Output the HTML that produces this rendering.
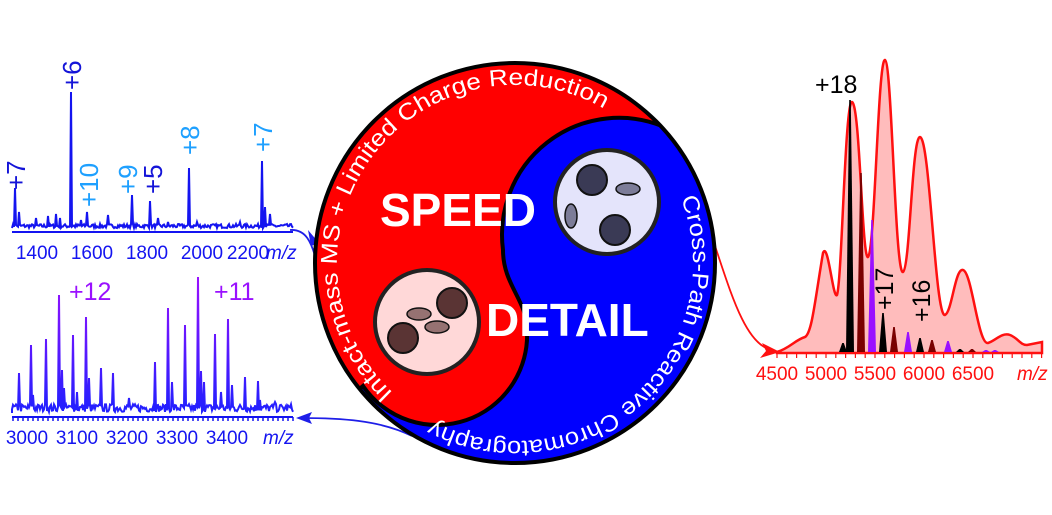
<!DOCTYPE html>
<html><head><meta charset="utf-8"><style>
html,body{margin:0;padding:0;background:#fff;width:1052px;height:515px;overflow:hidden}
svg{display:block}
text{font-family:"Liberation Sans",Arial,sans-serif}
</style></head><body>
<svg id="s" width="1052" height="515" viewBox="0 0 1052 515" xmlns="http://www.w3.org/2000/svg">
<defs>
<linearGradient id="pg" x1="0" y1="0" x2="0" y2="1"><stop offset="0" stop-color="#9a10ff"/><stop offset="1" stop-color="#2020ff"/></linearGradient>
<path id="ring" d="M 400.6,399.4 A 178 178 0 1 1 629.4,126.6 A 178 178 0 0 1 400.6,399.4"/>
<clipPath id="cc"><circle cx="515" cy="263" r="200"/></clipPath>
</defs>

<!-- Top-left spectrum -->
<g id="tl" stroke="#1414f0" fill="none" stroke-width="2"></g>
<line x1="12" y1="232" x2="293" y2="232" stroke="#1414f0" stroke-width="2"/>
<g fill="#1414f0" font-size="19">
<text x="37" y="259" text-anchor="middle">1400</text>
<text x="92" y="259" text-anchor="middle">1600</text>
<text x="147" y="259" text-anchor="middle">1800</text>
<text x="202" y="259" text-anchor="middle">2000</text>
<text x="248" y="259" text-anchor="middle">2200</text>
<text x="266" y="259" font-style="italic">m/z</text>
</g>
<g font-size="26">
<text transform="translate(25,190) rotate(-90)" fill="#1414d8">+7</text>
<text transform="translate(81,90) rotate(-90)" fill="#1414d8">+6</text>
<text transform="translate(98,207) rotate(-90)" fill="#1ea0ff">+10</text>
<text transform="translate(137,194) rotate(-90)" fill="#1ea0ff">+9</text>
<text transform="translate(162,194) rotate(-90)" fill="#1414d8">+5</text>
<text transform="translate(199,155) rotate(-90)" fill="#1ea0ff">+8</text>
<text transform="translate(272,152) rotate(-90)" fill="#1ea0ff">+7</text>
</g>

<!-- Bottom-left spectrum -->
<g id="bl" stroke="url(#pg)" fill="none" stroke-width="2"></g>
<line x1="12" y1="417" x2="293" y2="417" stroke="#1414f0" stroke-width="2"/>
<g id="blt" stroke="#1414f0" stroke-width="1.5"></g>
<g fill="#1414f0" font-size="19">
<text x="27" y="444" text-anchor="middle">3000</text>
<text x="77" y="444" text-anchor="middle">3100</text>
<text x="127" y="444" text-anchor="middle">3200</text>
<text x="177" y="444" text-anchor="middle">3300</text>
<text x="227" y="444" text-anchor="middle">3400</text>
<text x="263" y="444" font-style="italic">m/z</text>
</g>
<g fill="#9a10ff" font-size="25">
<text x="69" y="300">+12</text>
<text x="214" y="300">+11</text>
</g>

<!-- Right spectrum -->
<path d="M777,352 C790,348 795,340 805,337 C812,333 815,300 823,253 C828,240 833,300 837,295 C842,280 845,100 852,102 C860,104 862,260 868,257 C875,250 878,58 885,60 C892,62 895,275 903,272 C910,268 912,136 920,137 C930,138 935,318 945,315 C952,312 955,268 963,270 C972,272 978,345 988,343 C995,341 1002,332 1010,335 C1018,338 1020,345 1027,345 L1042,342 L1042,353 L777,353 Z" fill="#ffbcbc" stroke="#ff1010" stroke-width="2.5"/>
<g id="rs"></g>
<line x1="777" y1="353" x2="1042" y2="353" stroke="#ff1010" stroke-width="2"/>
<g id="rt" stroke="#ff1010" stroke-width="1.2"></g>
<g fill="#ff1010" font-size="19">
<text x="777" y="380" text-anchor="middle">4500</text>
<text x="826" y="380" text-anchor="middle">5000</text>
<text x="875" y="380" text-anchor="middle">5500</text>
<text x="924" y="380" text-anchor="middle">6000</text>
<text x="973" y="380" text-anchor="middle">6500</text>
<text x="1017" y="380" font-style="italic">m/z</text>
</g>
<g fill="#000" font-size="25">
<text x="815" y="93">+18</text>
<text transform="translate(893,310) rotate(-90)">+17</text>
<text transform="translate(930,322) rotate(-90)">+16</text>
</g>

<!-- arrows -->
<path d="M290,230 C305,229 312,240 318,268" stroke="#1e1ee8" stroke-width="1.8" fill="none"/>
<polygon points="308,230 319,243 311,246" fill="#1e1ee8"/>
<path d="M300,418 C340,418 380,420 412,436" stroke="#1e1ee8" stroke-width="1.8" fill="none"/>
<polygon points="296,418 312,412 309,418 312,424" fill="#1e1ee8"/>
<path d="M713,240 C730,290 745,345 772,350" stroke="#ff1010" stroke-width="1.8" fill="none"/>
<polygon points="780,352 762,343 766,351 760,358" fill="#ff1010"/>

<!-- Yin-yang -->
<circle cx="515" cy="263" r="200" fill="#0000ff"/>
<g clip-path="url(#cc)">
<path d="M 662,126 A 117 117 0 0 0 503,250 C 503,285 527,300 527,330 A 90 90 0 0 1 363,386 L 300,440 L 250,263 L 250,20 L 720,20 L 700,100 Z" fill="#ff0000" stroke="#000" stroke-width="4"/>
</g>
<circle cx="515" cy="263" r="200" fill="none" stroke="#000" stroke-width="4"/>

<circle cx="607" cy="202" r="52" fill="#e4e4fb" stroke="#222" stroke-width="4"/>
<circle cx="592" cy="180" r="15" fill="#3a3a55" stroke="#111" stroke-width="2"/>
<circle cx="615" cy="230" r="15" fill="#3a3a55" stroke="#111" stroke-width="2"/>
<ellipse cx="628" cy="189" rx="12" ry="6" fill="#7c7c98" stroke="#111" stroke-width="1.5"/>
<ellipse cx="571" cy="216" rx="6" ry="12" fill="#7c7c98" stroke="#111" stroke-width="1.5"/>

<circle cx="427" cy="322" r="52" fill="#ffd8d8" stroke="#222" stroke-width="4"/>
<circle cx="403" cy="338" r="15" fill="#5a3434" stroke="#111" stroke-width="2"/>
<circle cx="452" cy="303" r="15" fill="#5a3434" stroke="#111" stroke-width="2"/>
<ellipse cx="419" cy="314" rx="12" ry="6" fill="#967272" stroke="#111" stroke-width="1.5"/>
<ellipse cx="437" cy="327" rx="12" ry="6" fill="#967272" stroke="#111" stroke-width="1.5"/>

<text x="380" y="226" fill="#fff" font-size="46" font-weight="bold">SPEED</text>
<text x="486" y="336" fill="#fff" font-size="46" font-weight="bold">DETAIL</text>

<text fill="#fff" font-size="23"><textPath href="#ring" startOffset="10" textLength="518" lengthAdjust="spacingAndGlyphs">Intact-mass MS + Limited Charge Reduction</textPath></text>
<text fill="#fff" font-size="23"><textPath href="#ring" startOffset="648" textLength="432" lengthAdjust="spacingAndGlyphs">Cross-Path Reactive Chromatography</textPath></text>
</svg>
<script>
var seed=7;function rnd(){seed=(seed*16807)%2147483647;return seed/2147483647;}
var NS="http://www.w3.org/2000/svg";
function P(g,d,attrs){var p=document.createElementNS(NS,"path");p.setAttribute("d",d);for(var k in attrs)p.setAttribute(k,attrs[k]);document.getElementById(g).appendChild(p);}
var pk=[[15,188],[19,212],[36,218],[71,92],[81,220],[87,212],[132,195],[150,201],[158,218],[189,168],[197,222],[262,161],[265,207],[270,214],[108,215],[56,214],[60,218],[48,216],[168,222],[240,222]];
var d="M12,228";for(var x=12;x<=293;x+=1){var y=228-rnd()*4;for(var i=0;i<pk.length;i++){if(Math.abs(pk[i][0]-x)<0.5)y=pk[i][1];}d+=" L"+x+","+y.toFixed(1);}
P("tl",d,{});
var pb=[[19,373],[31,345],[46,339],[59,295],[73,335],[86,317],[101,368],[113,373],[155,362],[168,308],[185,325],[198,277],[215,334],[228,319],[245,377],[258,381],[62,370],[89,378],[33,395],[172,382],[201,371],[204,382],[232,385],[221,392],[129,398],[64,388],[77,392],[260,400],[275,402]];
d="M12,413";for(x=12;x<=293;x+=1){y=412-rnd()*8;for(i=0;i<pb.length;i++){if(Math.abs(pb[i][0]-x)<0.5)y=pb[i][1];}d+=" L"+x+","+y.toFixed(1);}
P("bl",d,{});
var t="";for(x=13;x<=293;x+=5){var L=((x-27)%50==0)?8:4;t+="M"+x+",417 v"+L+" ";}P("blt",t,{});
t="";for(x=777;x<=1042;x+=9.8){t+="M"+x.toFixed(1)+",353 v5 ";}P("rt",t,{});
var sp=[[850,100,"#000"],[861,173,"#7a0000"],[872,220,"#9a10ff"],[883,313,"#000"],[894,327,"#7a0000"],[908,332,"#9a10ff"],[920,338,"#000"],[932,340,"#7a0000"],[948,341,"#9a10ff"],[843,343,"#000"],[960,349,"#000"],[972,349,"#7a0000"],[986,350,"#9a10ff"],[995,350,"#9a10ff"]];
for(i=0;i<sp.length;i++){var s=sp[i];P("rs","M"+(s[0]-4)+",352 L"+(s[0]-0.8)+","+s[1]+" L"+(s[0]+0.8)+","+s[1]+" L"+(s[0]+4)+",352 Z",{fill:s[2]});}
</script>
</body></html>
